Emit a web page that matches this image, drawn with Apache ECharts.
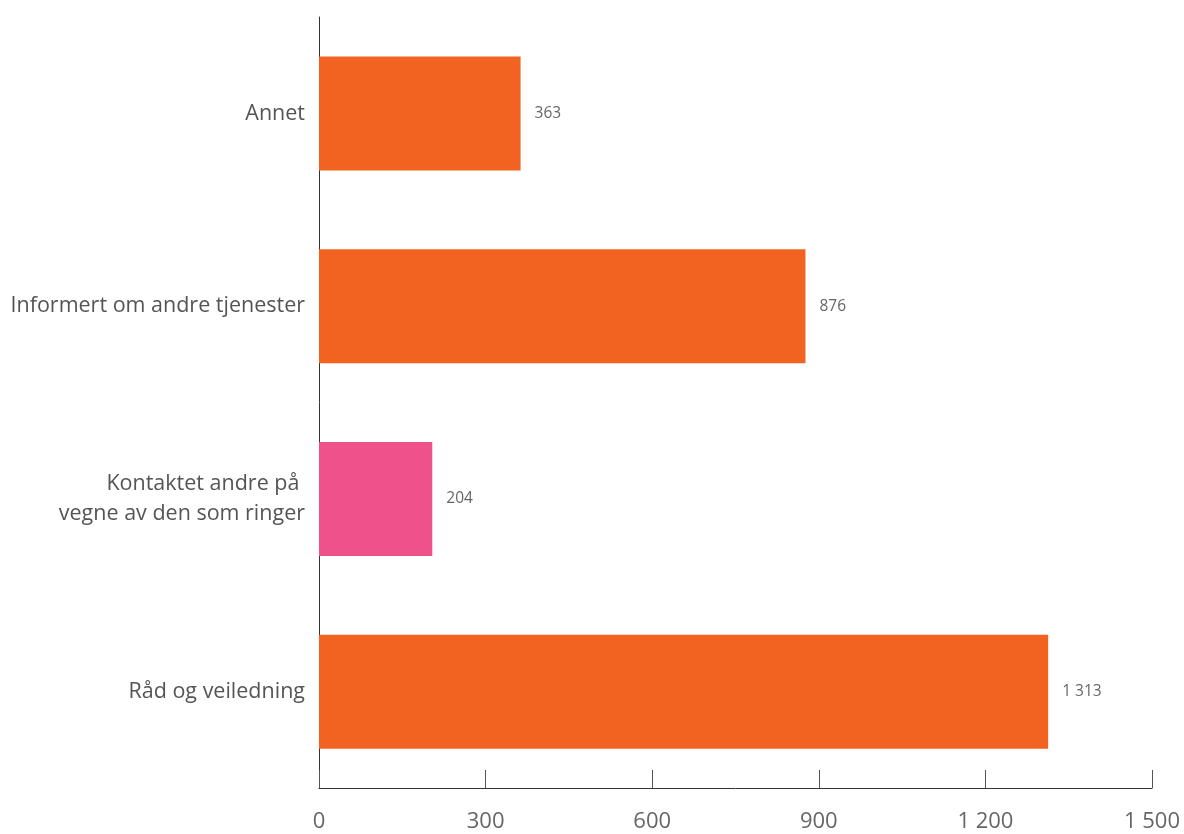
<!DOCTYPE html>
<html>
<head>
<meta charset="utf-8">
<script src="https://cdn.jsdelivr.net/npm/echarts@6/dist/echarts.min.js"></script>
<style>html,body{margin:0;padding:0;background:#fff}#c{width:1184px;height:834px}</style>
</head>
<body>
<div id="c"></div>
<script>
const categories = ["Råd og veiledning", "Kontaktet andre på \nvegne av den som ringer", "Informert om andre tjenester", "Annet"];
const values = [1313, 204, 876, 363];
const barColors = ["#F26322", "#EF528B", "#F26322", "#F26322"];
const xTicks = [0, 300, 600, 900, 1200, 1500];

function fmt(v) { return String(v).replace(/\B(?=(\d{3})+(?!\d))/g, " "); }

const chart = echarts.init(document.getElementById('c'), null, {renderer: 'canvas'});
chart.setOption({
  animation: false,
  backgroundColor: '#fff',
  grid: {left: 319, right: 32, top: 17, bottom: 46, containLabel: false},
  xAxis: {
    type: 'value', min: 0, max: 1500, interval: 300,
    axisLine: {show: true, lineStyle: {color: '#333', width: 1}},
    axisTick: {show: true, inside: true, length: 18, lineStyle: {color: '#555'}},
    splitLine: {show: false},
    axisLabel: {formatter: v => fmt(v), color: '#666', fontSize: 22, fontFamily: 'Open Sans', margin: 23}
  },
  yAxis: {
    type: 'category', data: categories,
    axisLine: {show: true, lineStyle: {color: '#333', width: 1}},
    axisTick: {show: false},
    axisLabel: {color: '#555', fontSize: 21.5, fontFamily: 'Open Sans', margin: 14, lineHeight: 30, align: 'right'}
  },
  series: [{
    type: 'bar', barWidth: 114,
    data: values.map((v, i) => ({value: v, itemStyle: {color: barColors[i]}})),
    label: {show: true, position: 'right', distance: 14, formatter: p => fmt(p.value), color: '#666', fontSize: 15.5, fontFamily: 'Open Sans'}
  }]
});
</script>
</body>
</html>
